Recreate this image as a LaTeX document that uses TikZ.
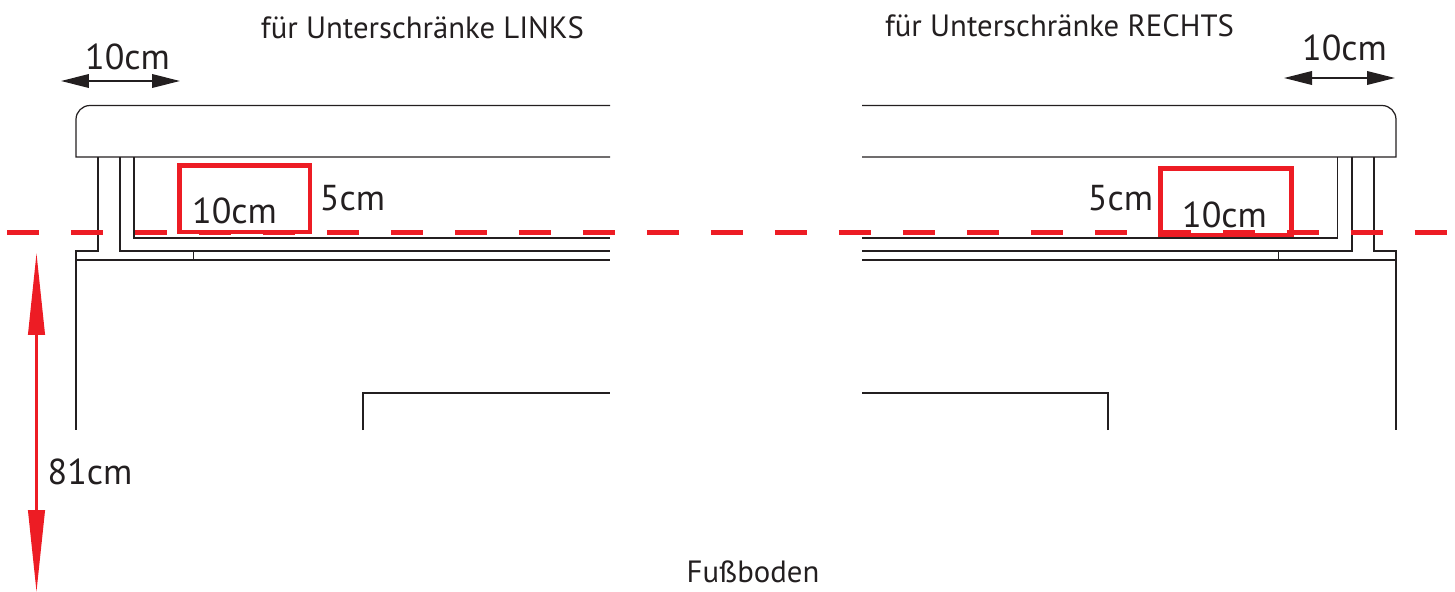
\documentclass[tikz,border=0pt]{standalone}
\usepackage{fontspec}
\setmainfont{PT Sans}
\usetikzlibrary{arrows.meta}
\definecolor{cutred}{HTML}{ED1C24}
\definecolor{inkblack}{HTML}{231F20}
\tikzset{
  plan/.style={draw=inkblack,line width=0.7pt},
  cutbox/.style={draw=cutred,line width=2.6pt},
  cutline/.style={draw=cutred,line width=2.8pt,dash pattern=on .64cm off .64cm},
  dimblack/.style={draw=inkblack,line width=1.2pt,{Triangle[length=.56cm,width=.27cm]}-{Triangle[length=.56cm,width=.27cm]}},
  dimred/.style={draw=cutred,line width=1.4pt,{Triangle[length=1.64cm,width=.33cm]}-{Triangle[length=1.64cm,width=.33cm]}},
  dimtext/.style={inkblack,anchor=base,inner sep=0pt,font=\fontsize{20.5}{24}\selectfont},
  headtext/.style={inkblack,anchor=base,inner sep=0pt,font=\fontsize{17.5}{20}\selectfont}
}
\begin{document}
\begin{tikzpicture}[x=0.02cm,y=-0.02cm]
      \useasboundingbox (0,0) rectangle (1455,592);
      % left side
      \draw[plan] (610,105.5) -- (90,105.5) arc[start angle=-90,end angle=-180,radius=14] -- (76,157) -- (610,157);
      \draw[plan] (98,157) -- (98,251) -- (76,251) -- (76,430);
      \draw[plan] (120,157) -- (120,251) -- (610,251);
      \draw[plan] (134,157) -- (134,238) -- (610,238);
      \draw[plan] (76,260) -- (610,260);
      \draw[plan] (193.5,251) -- (193.5,260);
      \draw[plan] (363,430) -- (363,393) -- (610,393);
      % right side
      \draw[plan] (862,105.5) -- (1382,105.5) arc[start angle=-90,end angle=0,radius=14] -- (1396,157) -- (862,157);
      \draw[plan] (1374,157) -- (1374,251) -- (1396,251) -- (1396,430);
      \draw[plan] (1352,157) -- (1352,251) -- (862,251);
      \draw[plan] (1337.5,157) -- (1337.5,238) -- (862,238);
      \draw[plan] (1396,260) -- (862,260);
      \draw[plan] (1278.5,251) -- (1278.5,260);
      \draw[plan] (1108,430) -- (1108,393) -- (862,393);
      % cut height
      \coordinate (cutL) at (7,232.5);
      \coordinate (cutR) at (1447,232.5);
      \draw[cutline] (cutL) -- (cutR);
      \draw[cutbox] (179.5,165.5) rectangle (310,232);
      \draw[cutbox] (1160.5,168.5) rectangle (1291.5,235);
      % dimensions
      \coordinate (dimLa) at (61,81);
      \coordinate (dimLb) at (180,81);
      \coordinate (dimRa) at (1284,78);
      \coordinate (dimRb) at (1395,78);
      \coordinate (floorA) at (36.5,253);
      \coordinate (floorB) at (36.5,592);
      \draw[dimblack] (dimLa) -- (dimLb);
      \draw[dimblack] (dimRa) -- (dimRb);
      \draw[dimred] (floorA) -- (floorB);
      % texts
      \node[headtext] (titleL) at (422.5,38) {für Unterschränke LINKS};
      \node[headtext] (titleR) at (1059.5,36) {für Unterschränke RECHTS};
      \node[headtext] (floor) at (753,582) {Fußboden};
      \node[dimtext] (widthL) at (127.5,69) {10cm};
      \node[dimtext] (widthR) at (1344.5,60) {10cm};
      \node[dimtext] (boxwL) at (234.5,223) {10cm};
      \node[dimtext] (boxwR) at (1224.5,227) {10cm};
      \node[dimtext] (boxhL) at (352.5,210) {5cm};
      \node[dimtext] (boxhR) at (1120.5,210) {5cm};
      \node[dimtext] (height) at (90,484) {81cm};
\end{tikzpicture}
\end{document}
